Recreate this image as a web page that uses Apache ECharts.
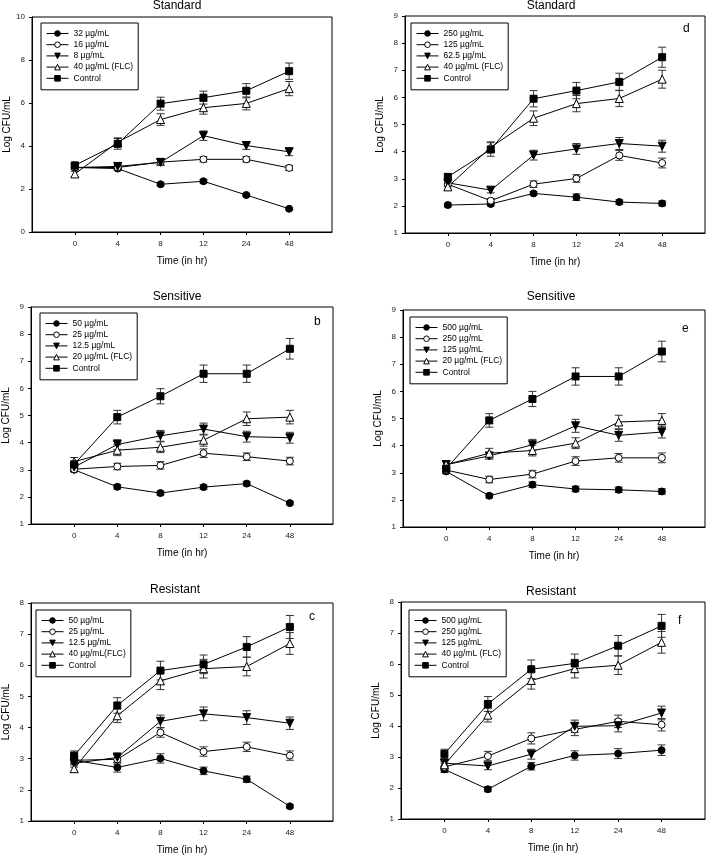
<!DOCTYPE html>
<html><head><meta charset="utf-8">
<script src="https://cdn.jsdelivr.net/npm/echarts@6/dist/echarts.min.js"></script>
<style>html,body{margin:0;padding:0;background:#fff}#c{width:707px;height:857px}</style>
</head><body><div id="c"></div>
<script>
// ---------- data ----------
const timeLabels = ['0', '4', '8', '12', '24', '48'];

// Panel a — Standard (no letter)
const aNames = ['32 µg/mL', '16 µg/mL', '8 µg/mL', '40 µg/mL (FLC)', 'Control'];
const a1 = [3.0, 2.95, 2.22, 2.36, 1.72, 1.08];  const a1e = [0.08, 0.08, 0.08, 0.08, 0.06, 0.05];
const a2 = [3.0, 3.0, 3.25, 3.38, 3.38, 2.98];   const a2e = [0.1, 0.1, 0.12, 0.12, 0.12, 0.12];
const a3 = [3.0, 3.05, 3.24, 4.48, 4.02, 3.73];  const a3e = [0.1, 0.1, 0.15, 0.22, 0.18, 0.18];
const a4 = [2.7, 4.18, 5.23, 5.78, 5.98, 6.67];  const a4e = [0.12, 0.2, 0.27, 0.3, 0.3, 0.33];
const a5 = [3.1, 4.1, 5.97, 6.25, 6.57, 7.48];   const a5e = [0.1, 0.25, 0.3, 0.3, 0.33, 0.38];

// Panel d — Standard
const dNames = ['250 µg/mL', '125 µg/mL', '62.5 µg/mL', '40 µg/mL (FLC)', 'Control'];
const d1 = [2.03, 2.07, 2.46, 2.32, 2.14, 2.09]; const d1e = [0.07, 0.07, 0.06, 0.12, 0.08, 0.09];
const d2 = [2.8, 2.19, 2.8, 3.01, 3.86, 3.58];   const d2e = [0.1, 0.08, 0.12, 0.14, 0.18, 0.18];
const d3 = [2.85, 2.58, 3.87, 4.1, 4.3, 4.2];    const d3e = [0.1, 0.1, 0.18, 0.2, 0.22, 0.22];
const d4 = [2.7, 4.16, 5.23, 5.77, 5.96, 6.67];  const d4e = [0.12, 0.2, 0.27, 0.3, 0.3, 0.33];
const d5 = [3.07, 4.08, 5.95, 6.25, 6.57, 7.48]; const d5e = [0.1, 0.25, 0.3, 0.3, 0.32, 0.37];

// Panel b — Sensitive
const bNames = ['50 µg/mL', '25 µg/mL', '12.5 µg/mL', '20 µg/mL (FLC)', 'Control'];
const b1 = [3.0, 2.37, 2.14, 2.36, 2.49, 1.77];  const b1e = [0.06, 0.08, 0.07, 0.08, 0.08, 0.06];
const b2 = [3.02, 3.12, 3.16, 3.61, 3.48, 3.32]; const b2e = [0.1, 0.12, 0.14, 0.16, 0.14, 0.14];
const b3 = [3.1, 3.93, 4.25, 4.5, 4.22, 4.18];   const b3e = [0.12, 0.18, 0.2, 0.22, 0.2, 0.2];
const b4 = [3.3, 3.72, 3.83, 4.09, 4.88, 4.94];  const b4e = [0.15, 0.2, 0.2, 0.22, 0.25, 0.25];
const b5 = [3.2, 4.94, 5.71, 6.54, 6.54, 7.46];  const b5e = [0.1, 0.25, 0.28, 0.32, 0.32, 0.38];

// Panel e — Sensitive
const eNames = ['500 µg/mL', '250 µg/mL', '125 µg/mL', '20 µg/mL (FLC)', 'Control'];
const e1 = [3.05, 2.15, 2.56, 2.4, 2.37, 2.31];  const e1e = [0.08, 0.08, 0.1, 0.1, 0.1, 0.1];
const e2 = [3.1, 2.75, 2.95, 3.43, 3.55, 3.55];  const e2e = [0.12, 0.12, 0.14, 0.16, 0.16, 0.18];
const e3 = [3.3, 3.62, 4.03, 4.73, 4.38, 4.5];   const e3e = [0.12, 0.12, 0.2, 0.24, 0.22, 0.22];
const e4 = [3.3, 3.72, 3.82, 4.09, 4.87, 4.93];  const e4e = [0.15, 0.18, 0.2, 0.2, 0.25, 0.25];
const e5 = [3.15, 4.93, 5.72, 6.55, 6.55, 7.47]; const e5e = [0.1, 0.25, 0.28, 0.32, 0.32, 0.38];

// Panel c — Resistant
const cNames = ['50 µg/mL', '25 µg/mL', '12.5 µg/mL', '40 µg/mL(FLC)', 'Control'];
const c1 = [2.95, 2.72, 3.01, 2.61, 2.34, 1.47]; const c1e = [0.1, 0.15, 0.15, 0.12, 0.1, 0.05];
const c2 = [2.95, 2.98, 3.84, 3.23, 3.38, 3.1];  const c2e = [0.12, 0.15, 0.15, 0.15, 0.15, 0.15];
const c3 = [2.85, 3.04, 4.2, 4.44, 4.32, 4.14];  const c3e = [0.12, 0.15, 0.2, 0.22, 0.22, 0.2];
const c4 = [2.68, 4.38, 5.5, 5.89, 5.96, 6.7];   const c4e = [0.12, 0.22, 0.28, 0.3, 0.3, 0.35];
const c5 = [3.1, 4.71, 5.83, 6.03, 6.59, 7.23];  const c5e = [0.15, 0.25, 0.3, 0.3, 0.33, 0.37];

// Panel f — Resistant
const fNames = ['500 µg/mL', '250 µg/mL', '125 µg/mL', '40 µg/mL (FLC)', 'Control'];
const f1 = [2.6, 1.96, 2.7, 3.05, 3.11, 3.22];   const f1e = [0.1, 0.08, 0.12, 0.15, 0.16, 0.17];
const f2 = [2.68, 3.03, 3.6, 3.89, 4.15, 4.04];  const f2e = [0.12, 0.15, 0.18, 0.2, 0.2, 0.2];
const f3 = [2.8, 2.71, 3.09, 3.99, 4.01, 4.42];  const f3e = [0.12, 0.12, 0.16, 0.2, 0.2, 0.22];
const f4 = [2.75, 4.35, 5.47, 5.85, 5.96, 6.7];  const f4e = [0.12, 0.22, 0.28, 0.3, 0.3, 0.35];
const f5 = [3.1, 4.71, 5.83, 6.02, 6.59, 7.23];  const f5e = [0.15, 0.24, 0.3, 0.3, 0.33, 0.37];

// ---------- layout / styling ----------
const FONT = 'Liberation Sans, Arial, Helvetica, sans-serif';
const panels = [
  {title: 'Standard',  letter: '',  names: aNames, vals: [a1,a2,a3,a4,a5], errs: [a1e,a2e,a3e,a4e,a5e],
   grid: {left: 32, top: 17, width: 300, height: 215}, y: [0, 10, 2], tx: 177, ty: 0,
   legend: {left: 41, top: 23}, lx: 0, ly: 0},
  {title: 'Standard',  letter: 'd', names: dNames, vals: [d1,d2,d3,d4,d5], errs: [d1e,d2e,d3e,d4e,d5e],
   grid: {left: 405, top: 16, width: 300, height: 217}, y: [1, 9, 1], tx: 551, ty: 0,
   legend: {left: 411, top: 23}, lx: 687, ly: 30},
  {title: 'Sensitive', letter: 'b', names: bNames, vals: [b1,b2,b3,b4,b5], errs: [b1e,b2e,b3e,b4e,b5e],
   grid: {left: 29, top: 307, width: 304, height: 217}, y: [1, 9, 1], tx: 177, ty: 291,
   legend: {left: 40, top: 313}, lx: 318, ly: 323},
  {title: 'Sensitive', letter: 'e', names: eNames, vals: [e1,e2,e3,e4,e5], errs: [e1e,e2e,e3e,e4e,e5e],
   grid: {left: 403, top: 310, width: 302, height: 217}, y: [1, 9, 1], tx: 551, ty: 291,
   legend: {left: 410, top: 317}, lx: 686, ly: 330},
  {title: 'Resistant', letter: 'c', names: cNames, vals: [c1,c2,c3,c4,c5], errs: [c1e,c2e,c3e,c4e,c5e],
   grid: {left: 30, top: 603, width: 303, height: 218}, y: [1, 8, 1], tx: 175, ty: 584,
   legend: {left: 36, top: 610}, lx: 313, ly: 618},
  {title: 'Resistant', letter: 'f', names: fNames, vals: [f1,f2,f3,f4,f5], errs: [f1e,f2e,f3e,f4e,f5e],
   grid: {left: 401, top: 602, width: 304, height: 217}, y: [1, 8, 1], tx: 551, ty: 586,
   legend: {left: 409, top: 610}, lx: 682, ly: 622}
];

const markerStyles = [
  {symbol: 'circle', size: 7, fill: '#000', rot: 0},
  {symbol: 'circle', size: 7, fill: '#fff', rot: 0},
  {symbol: 'triangle', size: 8, fill: '#000', rot: 180},
  {symbol: 'triangle', size: 8, fill: '#fff', rot: 0},
  {symbol: 'rect', size: 7, fill: '#000', rot: 0}
];

const option = {
  animation: false,
  backgroundColor: '#fff',
  textStyle: {fontFamily: FONT},
  title: [], grid: [], xAxis: [], yAxis: [], legend: [], series: [], graphic: []
};

panels.forEach((p, k) => {
  option.grid.push(Object.assign({show: true, borderColor: '#000', borderWidth: 1, containLabel: false}, p.grid));
  option.title.push({text: p.title, left: p.tx, top: p.ty, textAlign: 'center', padding: 0,
    textStyle: {fontSize: 12, fontWeight: 'normal', color: '#000', fontFamily: FONT}});
  option.xAxis.push({
    type: 'value', gridIndex: k, min: -1, max: 6, interval: 1,
    name: 'Time (in hr)', nameLocation: 'middle', nameGap: 24,
    nameTextStyle: {fontSize: 10, color: '#000', fontFamily: FONT},
    axisLine: {show: true, onZero: false, lineStyle: {color: '#000', width: 1}},
    axisTick: {show: true, length: 3, inside: false, customValues: [0,1,2,3,4,5], lineStyle: {color: '#000'}},
    axisLabel: {fontSize: 8, color: '#222', margin: 8, fontFamily: FONT,
      customValues: [0,1,2,3,4,5], formatter: v => timeLabels[v] || ''},
    splitLine: {show: false}
  });
  option.yAxis.push({
    type: 'value', gridIndex: k, min: p.y[0], max: p.y[1], interval: p.y[2],
    name: 'Log CFU/mL', nameLocation: 'middle', nameGap: 20,
    nameTextStyle: {fontSize: 10, color: '#000', fontFamily: FONT},
    axisLine: {show: true, onZero: false, lineStyle: {color: '#000', width: 1}},
    axisTick: {show: true, length: 3, inside: false, lineStyle: {color: '#000'}},
    axisLabel: {fontSize: 8, color: '#222', margin: 7, fontFamily: FONT},
    splitLine: {show: false}
  });
  const tag = '#' + k;
  option.legend.push({
    orient: 'vertical', left: p.legend.left, top: p.legend.top,
    data: p.names.map(n => n + tag),
    formatter: n => n.replace(/#\d$/, ''),
    itemWidth: 22, itemHeight: 7, itemGap: 2.2,
    padding: [6, 5, 7, 5],
    borderColor: '#000', borderWidth: 1, backgroundColor: '#fff',
    lineStyle: {width: 1, color: '#000'},
    itemStyle: {borderWidth: 1, borderColor: '#000'},
    textStyle: {fontSize: 8.5, color: '#000', fontFamily: FONT},
    selectedMode: false
  });
  p.vals.forEach((vals, s) => {
    const m = markerStyles[s];
    option.series.push({
      type: 'custom', xAxisIndex: k, yAxisIndex: k, z: 1, silent: true,
      data: vals.map((v, i) => [i, v, p.errs[s][i]]),
      encode: {x: 0, y: 1},
      renderItem: (params, api) => {
        const x = api.value(0), y = api.value(1), e = api.value(2);
        const top = api.coord([x, y + e]);
        const bot = api.coord([x, y - e]);
        const w = 4;
        const st = {stroke: '#333', lineWidth: 1};
        return {type: 'group', children: [
          {type: 'line', shape: {x1: top[0], y1: top[1], x2: bot[0], y2: bot[1]}, style: st},
          {type: 'line', shape: {x1: top[0] - w, y1: top[1], x2: top[0] + w, y2: top[1]}, style: st},
          {type: 'line', shape: {x1: bot[0] - w, y1: bot[1], x2: bot[0] + w, y2: bot[1]}, style: st}
        ]};
      }
    });
    option.series.push({
      type: 'line', name: p.names[s] + tag, xAxisIndex: k, yAxisIndex: k, z: 3,
      data: vals.map((v, i) => [i, v]),
      symbol: m.symbol, symbolSize: m.size, symbolRotate: m.rot, showSymbol: true,
      lineStyle: {color: '#000', width: 1},
      itemStyle: {color: m.fill, borderColor: '#000', borderWidth: 1},
      emphasis: {disabled: true}
    });
  });
  if (p.letter) {
    option.graphic.push({type: 'text', left: p.lx - 4, top: p.ly - 7,
      style: {text: p.letter, fontSize: 12, fill: '#000', fontFamily: FONT}});
  }
});

const chart = echarts.init(document.getElementById('c'), null, {renderer: 'canvas'});
chart.setOption(option);
</script></body></html>
